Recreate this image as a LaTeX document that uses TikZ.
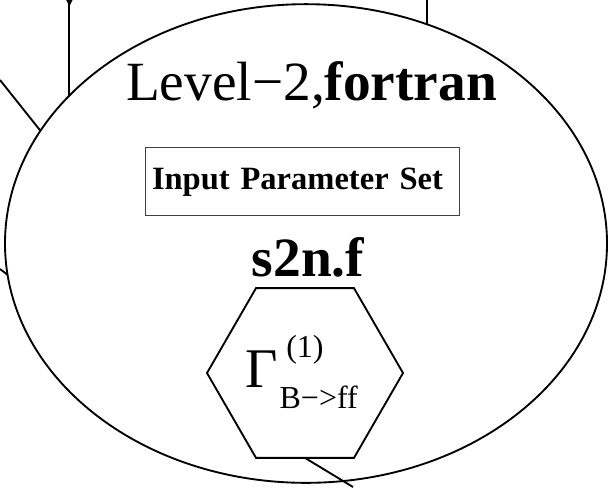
\documentclass[tikz,border=0pt]{standalone}
\usepackage{fontspec}
\setmainfont{Liberation Serif}
\usetikzlibrary{shapes.geometric, arrows.meta}

\begin{document}
\begin{tikzpicture}[x=0.75pt, y=-0.75pt, line width=1.4pt,
    outline/.style={draw, ellipse, inner sep=0pt, outer sep=0pt, minimum width=451.5pt, minimum height=359pt},
    parambox/.style={draw=black!75, line width=0.7pt, text width=225pt, inner xsep=5.25pt, minimum height=51pt, align=left},
    hexa/.style={draw, regular polygon, regular polygon sides=6, minimum size=147pt, inner sep=0pt, outer sep=0pt}]

  \useasboundingbox (0,0) rectangle (613,487);

  \node[outline] (lvl) at (306,243.5) {};
  \node[anchor=base, inner sep=0pt, font=\fontsize{41.5}{45}\selectfont] (title) at (311.5,100) {Level−2,\textbf{fortran}};

  \node[parambox, font=\bfseries\fontsize{24.4}{28}\selectfont] (ips) at (302,181.7) {Input Parameter Set};

  \node[anchor=base, inner sep=0pt, font=\bfseries\fontsize{41.6}{46}\selectfont] (src) at (308,276.7) {s2n.f};

  \node[hexa] (gam) at (305,373) {};
  \node[anchor=base west, inner sep=0pt] (rate) at (245,387)
    {{\fontsize{42}{44}\selectfont Γ}\kern 1pt\makebox[0pt][l]{\kern 5pt\raisebox{22.5pt}{\fontsize{24}{26}\selectfont (1)}}\raisebox{-15.75pt}{\fontsize{24}{26}\selectfont B−>ff}};

  % connectors leaving the picture
  \coordinate (topA) at (68,0);
  \coordinate (tipA) at (68,8);
  \coordinate (topB) at (424,0);
  \coordinate (leftA) at (0,80);
  \coordinate (leftB) at (0,269);
  \coordinate (botC) at (353,487);

  \draw (lvl.148.4 |- topA) -- (lvl.148.4);
  \draw[-{Latex[length=6pt, width=5pt]}] (lvl.148.4 |- topA) -- (lvl.148.4 |- tipA);
  \draw (lvl.61.9 |- topB) -- (lvl.61.9);
  \draw (leftA) -- (lvl.157.3);
  \draw (leftB) -- (lvl.186.6);
  \draw (gam.south) -- (botC);

\end{tikzpicture}
\end{document}
